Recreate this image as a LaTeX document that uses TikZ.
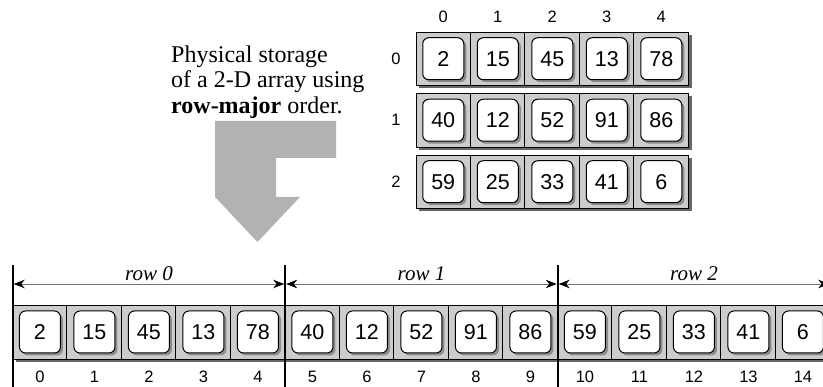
\documentclass[tikz,border=0pt]{standalone}
\usepackage{fontspec}
\setmainfont{Liberation Serif}
\setsansfont{Liberation Sans}
\usetikzlibrary{arrows.meta,shadows}

\begin{document}
\begin{tikzpicture}[x=1pt, y=-1pt,
    strip/.style={draw, line width=0.9pt, fill=black!20, inner sep=0pt,
      drop shadow={shadow xshift=3pt, shadow yshift=-3pt, fill=black!60, opacity=1}},
    valbox/.style={draw, line width=1pt, fill=white, rounded corners=6pt,
      minimum width=41pt, minimum height=42pt, inner sep=0pt,
      font=\sffamily\fontsize{21.5}{22}\selectfont,
      drop shadow={shadow xshift=2.5pt, shadow yshift=-2.5pt, fill=black!45, opacity=1}},
    idx/.style={font=\sffamily\fontsize{16.5}{17}\selectfont, inner sep=0pt},
    spanlab/.style={above, inner sep=3pt, font=\fontsize{21}{21}\selectfont\itshape},
    dim/.style={<->, >={Stealth[length=11pt, width=8.5pt, black]}, draw=black!55,
      line width=0.8pt, shorten <=1pt, shorten >=1pt}]
  \useasboundingbox (0,0) rectangle (823,387);

  % Caption and the bent arrow
  \node[anchor=base west, align=left, inner sep=0pt,
    font=\fontsize{24}{25.5}\selectfont] (caption) at (171,113.5)
    {Physical storage\\of a 2-D array using\\\textbf{row-major} order.};
  \fill[black!30] (215,121) -- (336,121) -- (336,158) -- (276,158) -- (276,197)
    -- (300,197) -- (257.5,242) -- (215,197) -- cycle;

  % Top: the 2-D array
  \foreach \c in {0,...,4}
    \node[idx] (col\c) at (443.25+54.5*\c,16.5) {\c};
  \foreach \r/\vals in {0/{2,15,45,13,78}, 1/{40,12,52,91,86}, 2/{59,25,33,41,6}} {
    \node[strip, minimum width=272.5pt, minimum height=53.5pt] (row\r)
      at (552.25,58.75+61.5*\r) {};
    \node[idx] (rlab\r) at (396,58.75+61.5*\r) {\r};
    \foreach \c in {1,...,4}
      \draw[line width=0.8pt] (row\r.north west) ++(54.5*\c,0) -- ++(0,53.5);
    \foreach \v [count=\c from 0] in \vals
      \node[valbox] (a\r\c) at (443.25+54.5*\c,58.75+61.5*\r) {\v};
  }

  % Bottom: the same values in one row
  \node[strip, minimum width=817.5pt, minimum height=54pt] (flat) at (421.45,332) {};
  \foreach \k in {1,...,14}
    \draw[line width=0.8pt] (flat.north west) ++(54.5*\k,0) -- ++(0,54);
  \foreach \v [count=\k from 0] in {2,15,45,13,78,40,12,52,91,86,59,25,33,41,6} {
    \node[valbox] (b\k) at (39.95+54.5*\k,332) {\v};
    \node[idx] (i\k) at (39.95+54.5*\k,376.7) {\k};
  }

  % Row bounds and their spans
  \foreach \s in {0,...,3} {
    \coordinate (d\s) at (12.7+272.5*\s,284);
    \draw[line width=2pt] (12.7+272.5*\s,265) -- (12.7+272.5*\s,392);
  }
  \draw[dim] (d0) -- node[spanlab] {row 0} (d1);
  \draw[dim] (d1) -- node[spanlab] {row 1} (d2);
  \draw[dim] (d2) -- node[spanlab] {row 2} (d3);
\end{tikzpicture}
\end{document}
